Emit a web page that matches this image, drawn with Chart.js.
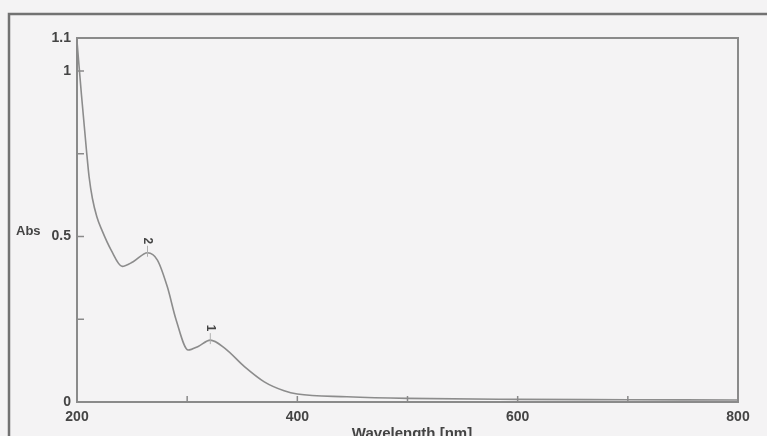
<!DOCTYPE html>
<html>
<head>
<meta charset="utf-8">
<title>UV-Vis spectrum</title>
<script src="https://cdn.jsdelivr.net/npm/chart.js@4/dist/chart.umd.min.js"></script>
<style>
    html, body { margin: 0; padding: 0; background: #f4f3f4; }
    #spectrum { display: block; }
</style>
</head>
<body>
<canvas id="spectrum" width="767" height="436"></canvas>
<script>
// Data
const wavelengths = [200, 204, 208.6, 211, 214, 218, 222.5, 231, 241, 251, 264, 273, 282, 290, 301, 310, 321, 334, 352, 370, 388, 400, 445, 500, 600, 700, 800];
const absorbance = [1.09, 0.93, 0.76, 0.68, 0.615, 0.56, 0.52, 0.459, 0.41, 0.424, 0.451, 0.429, 0.348, 0.248, 0.157, 0.168, 0.187, 0.163, 0.107, 0.061, 0.034, 0.024, 0.016, 0.011, 0.008, 0.007, 0.006];

const xTickValues = [200, 300, 400, 500, 600, 700, 800];
const xTickLabels = ['200', '', '400', '', '600', '', '800'];
const yTickValues = [0, 0.25, 0.5, 0.75, 1, 1.1];
const yTickLabels = ['0', '', '0.5', '', '1', '1.1'];

const peakWavelengths = [321, 264];
const peakAbsorbance = [0.187, 0.451];
const peakLabels = ['1', '2'];

const AXIS_COLOR = '#8a8a8a';
const TEXT_COLOR = '#444444';
const FONT = '"Liberation Sans", Arial, sans-serif';

const framePlugin = {
    id: 'frame',
    beforeDraw: (chart) => {
        const ctx = chart.ctx;
        ctx.save();
        ctx.fillStyle = '#f4f3f4';
        ctx.fillRect(0, 0, chart.width, chart.height);
        // scan border
        ctx.strokeStyle = '#727272';
        ctx.lineWidth = 2.5;
        ctx.beginPath();
        ctx.moveTo(9, chart.height);
        ctx.lineTo(9, 14);
        ctx.lineTo(chart.width, 14);
        ctx.stroke();
        ctx.restore();
    },
    afterDraw: (chart) => {
        const { ctx, chartArea: area, scales } = chart;
        ctx.save();

        // plot box
        ctx.strokeStyle = AXIS_COLOR;
        ctx.lineWidth = 2;
        ctx.strokeRect(area.left, area.top, area.right - area.left, area.bottom - area.top);

        // inward tick marks
        ctx.lineWidth = 1.5;
        ctx.beginPath();
        xTickValues.forEach((v) => {
            const px = scales.x.getPixelForValue(v);
            ctx.moveTo(px, area.bottom);
            ctx.lineTo(px, area.bottom - 6);
        });
        yTickValues.forEach((v) => {
            const py = scales.y.getPixelForValue(v);
            ctx.moveTo(area.left, py);
            ctx.lineTo(area.left + 7, py);
        });
        ctx.stroke();

        // peak markers
        ctx.fillStyle = TEXT_COLOR;
        ctx.font = 'bold 12px ' + FONT;
        ctx.textAlign = 'center';
        ctx.textBaseline = 'middle';
        peakWavelengths.forEach((wl, i) => {
            const px = scales.x.getPixelForValue(wl);
            const py = scales.y.getPixelForValue(peakAbsorbance[i]);
            ctx.strokeStyle = '#b0b0b0';
            ctx.lineWidth = 1;
            ctx.beginPath();
            ctx.moveTo(px, py + 4);
            ctx.lineTo(px, py - 7);
            ctx.stroke();
            ctx.save();
            ctx.translate(px, py - 12);
            ctx.rotate(Math.PI / 2);
            ctx.fillText(peakLabels[i], 0, 0);
            ctx.restore();
        });

        // axis titles
        ctx.font = 'bold 13px ' + FONT;
        ctx.textAlign = 'left';
        ctx.textBaseline = 'middle';
        ctx.fillText('Abs', 16, 231);
        ctx.font = 'bold 15px ' + FONT;
        ctx.textAlign = 'center';
        ctx.textBaseline = 'alphabetic';
        ctx.fillText('Wavelength [nm]', 412, 438);

        ctx.restore();
    }
};

const chart = new Chart(document.getElementById('spectrum'), {
    type: 'line',
    data: {
        datasets: [
            {
                label: 'Abs',
                data: wavelengths.map((wl, i) => ({ x: wl, y: absorbance[i] })),
                borderColor: '#8c8c8c',
                borderWidth: 1.6,
                pointRadius: 0,
                fill: false,
                cubicInterpolationMode: 'monotone'
            }
        ]
    },
    options: {
        responsive: false,
        animation: false,
        layout: {
            padding: { left: 0, top: 38, right: 29, bottom: 0 }
        },
        plugins: {
            legend: { display: false },
            tooltip: { enabled: false }
        },
        scales: {
            x: {
                type: 'linear',
                min: 200,
                max: 800,
                afterBuildTicks: (scale) => {
                    scale.ticks = xTickValues.map((v) => ({ value: v }));
                },
                afterFit: (scale) => {
                    scale.height = 34;
                },
                grid: { display: false, drawTicks: false },
                border: { display: false },
                ticks: {
                    autoSkip: false,
                    maxRotation: 0,
                    padding: 7,
                    color: TEXT_COLOR,
                    font: { family: FONT, size: 14, weight: 'bold' },
                    callback: (value) => xTickLabels[xTickValues.indexOf(value)]
                }
            },
            y: {
                type: 'linear',
                min: 0,
                max: 1.1,
                afterBuildTicks: (scale) => {
                    scale.ticks = yTickValues.map((v) => ({ value: v }));
                },
                afterFit: (scale) => {
                    scale.width = 77;
                },
                grid: { display: false, drawTicks: false },
                border: { display: false },
                ticks: {
                    autoSkip: false,
                    padding: 6,
                    color: TEXT_COLOR,
                    font: { family: FONT, size: 14, weight: 'bold' },
                    callback: (value) => yTickLabels[yTickValues.indexOf(value)]
                }
            }
        }
    },
    plugins: [framePlugin]
});
</script>
</body>
</html>
